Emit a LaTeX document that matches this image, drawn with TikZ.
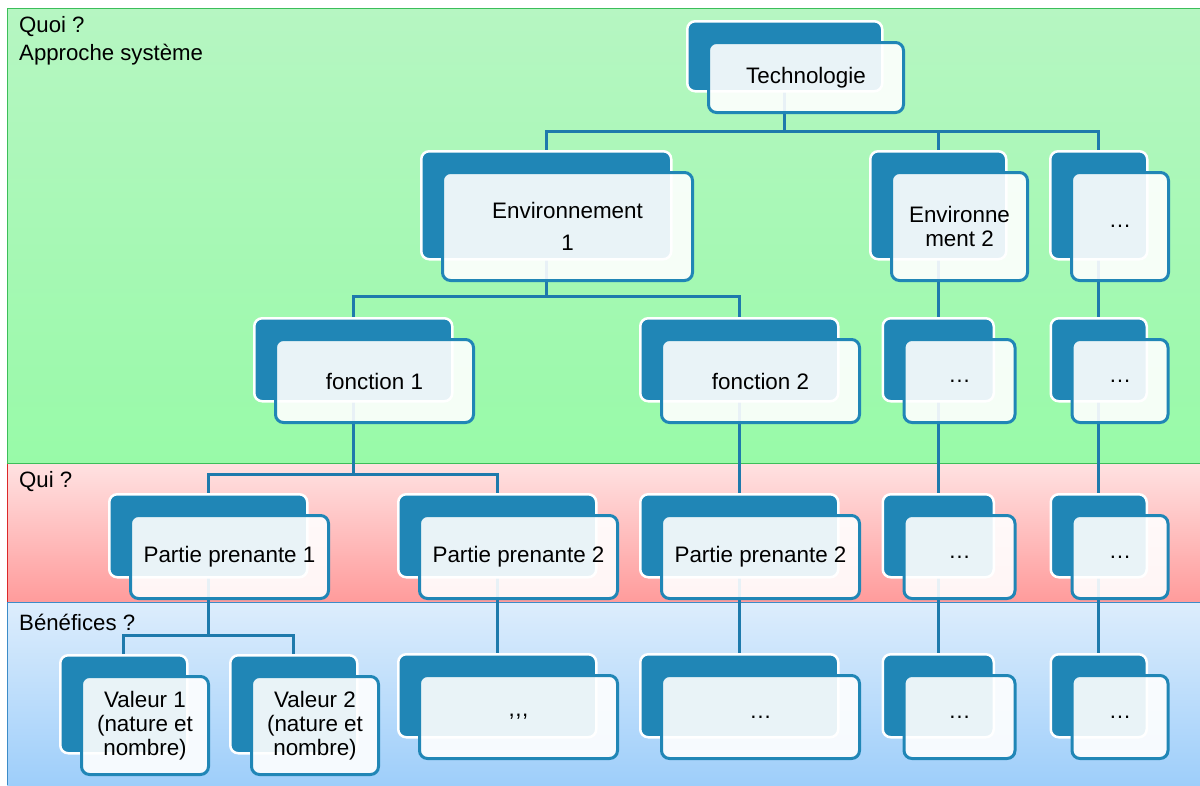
\documentclass[tikz,border=0pt]{standalone}
\usepackage{fontspec}
\setmainfont{Liberation Sans}
\pgfdeclarelayer{bands}
\pgfdeclarelayer{lines}
\pgfsetlayers{bands,lines,main}
\definecolor{dkblue}{RGB}{32,134,182}
\definecolor{lnblue}{RGB}{30,122,172}
\definecolor{gTop}{RGB}{182,246,194}
\definecolor{gBot}{RGB}{152,250,168}
\definecolor{gLine}{RGB}{60,190,90}
\definecolor{rTop}{RGB}{255,226,226}
\definecolor{rBot}{RGB}{255,155,155}
\definecolor{rLine}{RGB}{220,40,40}
\definecolor{bTop}{RGB}{221,237,252}
\definecolor{bBot}{RGB}{158,206,250}
\definecolor{bLine}{RGB}{60,140,200}
\tikzset{
  backbox/.style={rectangle, rounded corners=8pt, fill=dkblue, draw=white,
    line width=2.5pt, anchor=north west, inner sep=0pt},
  frontbox/.style={rectangle, rounded corners=8pt, fill=white, fill opacity=0.9,
    text opacity=1, draw=dkblue, draw opacity=1, line width=3pt,
    anchor=north west, inner sep=0pt, align=center,
    font=\fontsize{22.4}{24}\selectfont},
  conn/.style={draw=lnblue, line width=3pt},
  lbl/.style={anchor=west, inner sep=0pt, font=\fontsize{22.2}{24}\selectfont}
}
\newcommand\boxpair[6]{%
  \node[backbox, minimum width=#4pt, minimum height=#5pt] (#1) at (#2,#3) {};
  \node[frontbox, minimum width=#4pt, minimum height=#5pt] (#1f) at (#2+21,#3+21) {#6};
}
\begin{document}
\begin{tikzpicture}[x=1pt,y=-1pt]
\useasboundingbox (0,0) rectangle (1200,785);
\begin{pgfonlayer}{bands}
  \fill[white] (0,0) rectangle (1200,785);
  \shade[top color=gTop, bottom color=gBot] (7,8) rectangle (1200,463);
  \draw[gLine, line width=1pt] (1200,8) -- (7,8) -- (7,463) -- (1200,463);
  \shade[top color=rTop, bottom color=rBot] (7,463) rectangle (1200,602);
  \draw[rLine, line width=1pt] (7,463) -- (7,602);
  \shade[top color=bTop, bottom color=bBot] (7,602) rectangle (1200,785);
  \draw[bLine, line width=1pt] (1200,602) -- (7,602) -- (7,785);
  \draw[gLine, line width=1pt] (7,463) -- (1200,463);
\end{pgfonlayer}

\node[lbl] (quoi) at (19,27) {Quoi ?};
\node[lbl] (appr) at (19,55) {Approche système};
\node[lbl] (qui) at (19,482) {Qui ?};
\node[lbl] (bene) at (19,622) {Bénéfices ?};

% level 1
\boxpair{tech}{686}{20}{195}{70}{Technologie}
% level 2
\boxpair{envA}{420}{150}{250}{108}{Environnement\\[8pt]1}
\boxpair{envB}{869}{150}{136}{108}{Environne\\ment 2}
\boxpair{envC}{1049}{150}{97}{108}{…}
% level 3
\boxpair{fA}{253}{317}{198}{83}{fonction 1}
\boxpair{fB}{639}{317}{198}{83}{fonction 2}
\boxpair{fC}{881.5}{317}{111}{83}{…}
\boxpair{fD}{1049.5}{317}{96}{83}{…}
% level 4
\boxpair{pA}{108}{493}{198}{83}{Partie prenante 1}
\boxpair{pB}{397}{493}{198}{83}{Partie prenante 2}
\boxpair{pC}{639}{493}{198}{83}{Partie prenante 2}
\boxpair{pD}{881.5}{493}{111}{83}{…}
\boxpair{pE}{1049.5}{493}{96}{83}{…}
% level 5
\boxpair{vA}{59}{654}{127}{98}{Valeur 1\\(nature et\\nombre)}
\boxpair{vB}{229}{654}{127}{98}{Valeur 2\\(nature et\\nombre)}
\boxpair{vC}{397}{653}{198}{83}{,\kern0.5pt,\kern0.5pt,}
\boxpair{vD}{639}{653}{198}{83}{…}
\boxpair{vE}{881.5}{653}{111}{83}{…}
\boxpair{vF}{1049.5}{653}{96}{83}{…}

\coordinate (bus1) at (0,131);
\coordinate (bus2) at (0,296);
\coordinate (bus3) at (0,474);
\coordinate (bus4) at (0,635);
\begin{pgfonlayer}{lines}
  \draw[conn] (envA.center) |- (tech.center |- bus1) -- (tech.center);
  \draw[conn] (envB.center) |- (tech.center |- bus1);
  \draw[conn] (envC.center) |- (tech.center |- bus1);
  \draw[conn] (fA.center) |- (envA.center |- bus2) -- (envA.center);
  \draw[conn] (fB.center) |- (envA.center |- bus2);
  \draw[conn] (envB.center) -- (fC.center);
  \draw[conn] (envC.center) -- (fD.center);
  \draw[conn] (pA.center) |- (fA.center |- bus3) -- (fA.center);
  \draw[conn] (pB.center) |- (fA.center |- bus3);
  \draw[conn] (fB.center) -- (pC.center);
  \draw[conn] (fC.center) -- (pD.center);
  \draw[conn] (fD.center) -- (pE.center);
  \draw[conn] (vA.center) |- (pA.center |- bus4) -- (pA.center);
  \draw[conn] (vB.center) |- (pA.center |- bus4);
  \draw[conn] (pB.center) -- (vC.center);
  \draw[conn] (pC.center) -- (vD.center);
  \draw[conn] (pD.center) -- (vE.center);
  \draw[conn] (pE.center) -- (vF.center);
\end{pgfonlayer}
\end{tikzpicture}
\end{document}
